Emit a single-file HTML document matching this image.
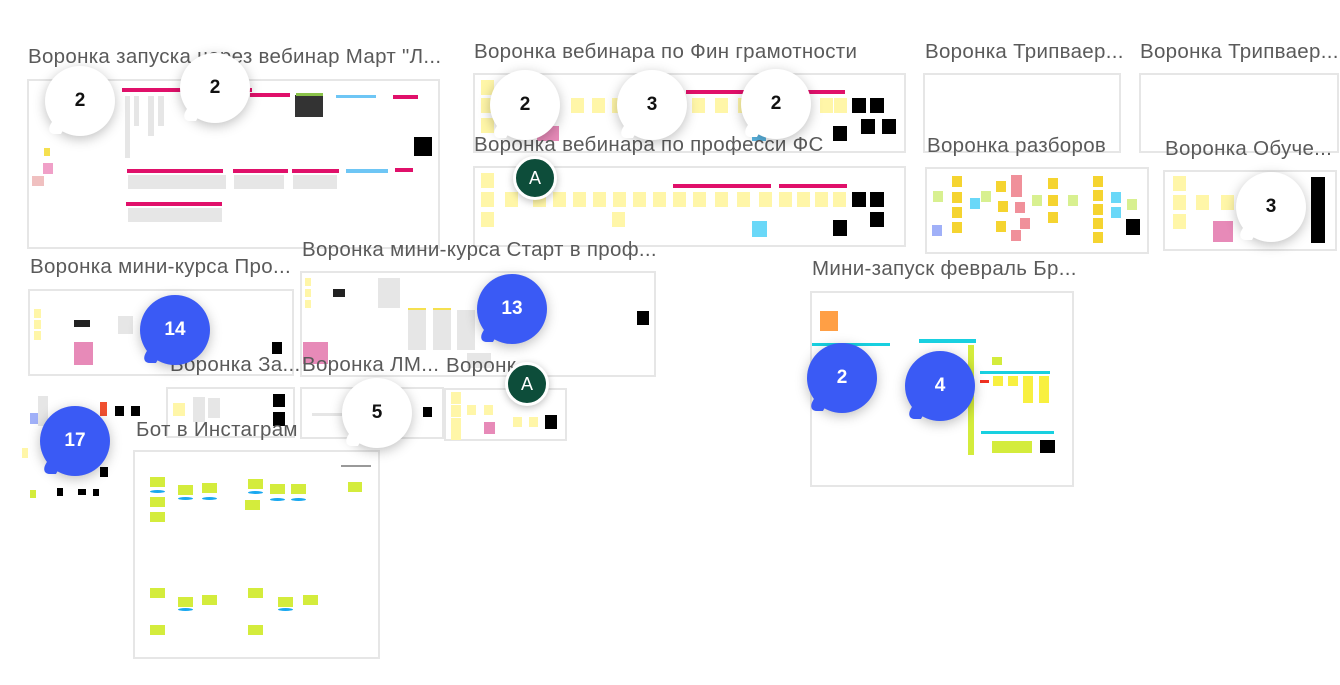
<!DOCTYPE html>
<html><head><meta charset="utf-8"><style>
body{margin:0;width:1340px;height:685px;background:#fff;position:relative;overflow:hidden;font-family:"Liberation Sans","DejaVu Sans",sans-serif}
.a{position:absolute}
.f{position:absolute;border:2px solid #e6e6e6;background:#fff;box-sizing:border-box}
.t{position:absolute;font-size:20.5px;color:#5a5a5a;white-space:nowrap;letter-spacing:0.3px}
.y{position:absolute;background:#fff6a8;width:13px;height:15px}
.Y{position:absolute;background:#f5d430;width:14px;height:15px}
.g{position:absolute;background:#e6e6e6}
.k{position:absolute;background:#000}
.p{position:absolute;background:#e0106a;height:4px}
.l{position:absolute;background:#d4ec3c}
.w{position:absolute;width:70px;height:70px;border-radius:50%;background:#fff;box-shadow:0 3px 12px rgba(0,0,0,.25);font-weight:bold;font-size:19px;color:#111;display:flex;align-items:center;justify-content:center}
.w:before{content:"";position:absolute;left:4px;bottom:2px;width:16px;height:14px;background:inherit;transform:skewX(-30deg);border-radius:0 0 0 10px}
.b{background:#3a5af5;color:#fff}
.av{position:absolute;width:38px;height:38px;border-radius:50%;background:#0d4d3a;border:3px solid #fff;box-shadow:0 2px 8px rgba(0,0,0,.25);color:#fff;font-size:18px;display:flex;align-items:center;justify-content:center}
</style></head><body>

<!-- frame 1 -->
<div class="t" style="left:28px;top:45px">Воронка запуска через вебинар Март "Л...</div>
<div class="f" style="left:27px;top:79px;width:413px;height:170px"></div>
<div class="p" style="left:122px;top:88px;width:130px"></div><div class="p" style="left:250px;top:93px;width:40px"></div>
<div class="a" style="left:295px;top:95px;width:28px;height:22px;background:#333"></div>
<div class="a" style="left:296px;top:93px;width:27px;height:3px;background:#8bc34a"></div>
<div class="a" style="left:336px;top:95px;width:40px;height:3px;background:#6ec6f5"></div>
<div class="p" style="left:393px;top:95px;width:25px"></div>
<div class="k" style="left:414px;top:137px;width:18px;height:19px"></div>
<div class="a" style="left:43px;top:163px;width:10px;height:11px;background:#f0a0c8"></div>
<div class="a" style="left:44px;top:148px;width:6px;height:8px;background:#f5e050"></div>
<div class="a" style="left:32px;top:176px;width:12px;height:10px;background:#f0c0c0"></div>
<div class="g" style="left:125px;top:96px;width:5px;height:62px"></div><div class="g" style="left:134px;top:96px;width:5px;height:30px"></div>
<div class="g" style="left:148px;top:96px;width:6px;height:40px"></div><div class="g" style="left:158px;top:96px;width:6px;height:30px"></div>
<div class="p" style="left:127px;top:169px;width:96px"></div><div class="p" style="left:233px;top:169px;width:55px"></div>
<div class="p" style="left:292px;top:169px;width:47px"></div><div class="a" style="left:346px;top:169px;width:42px;height:4px;background:#6ec6f5"></div><div class="p" style="left:395px;top:168px;width:18px"></div>
<div class="g" style="left:128px;top:175px;width:98px;height:14px"></div><div class="g" style="left:234px;top:175px;width:50px;height:14px"></div><div class="g" style="left:293px;top:175px;width:44px;height:14px"></div>
<div class="p" style="left:126px;top:202px;width:96px"></div><div class="g" style="left:128px;top:208px;width:94px;height:14px"></div>

<!-- frame 2 -->
<div class="t" style="left:474px;top:40px">Воронка вебинара по Фин грамотности</div>
<div class="f" style="left:473px;top:73px;width:433px;height:80px"></div>
<div class="p" style="left:686px;top:90px;width:100px"></div><div class="p" style="left:808px;top:90px;width:37px"></div>
<div class="y" style="left:481px;top:80px"></div><div class="y" style="left:481px;top:98px"></div><div class="y" style="left:481px;top:118px"></div>
<div class="y" style="left:571px;top:98px"></div><div class="y" style="left:592px;top:98px"></div><div class="y" style="left:612px;top:98px"></div>
<div class="y" style="left:692px;top:98px"></div><div class="y" style="left:715px;top:98px"></div><div class="y" style="left:738px;top:98px"></div><div class="y" style="left:820px;top:98px"></div><div class="y" style="left:834px;top:98px"></div>
<div class="a" style="left:537px;top:126px;width:22px;height:15px;background:#e78ab8"></div>
<div class="a" style="left:752px;top:133px;width:14px;height:8px;background:#5ab4e0"></div>
<div class="k" style="left:852px;top:98px;width:14px;height:15px"></div><div class="k" style="left:870px;top:98px;width:14px;height:15px"></div>
<div class="k" style="left:833px;top:126px;width:14px;height:15px"></div><div class="k" style="left:861px;top:119px;width:14px;height:15px"></div><div class="k" style="left:882px;top:119px;width:14px;height:15px"></div>

<!-- frame 3 -->
<div class="t" style="left:474px;top:133px">Воронка вебинара по професси ФС</div>
<div class="f" style="left:473px;top:166px;width:433px;height:81px"></div>
<div class="p" style="left:673px;top:184px;width:98px"></div><div class="p" style="left:779px;top:184px;width:68px"></div>
<div class="y" style="left:481px;top:173px"></div><div class="y" style="left:481px;top:192px"></div><div class="y" style="left:481px;top:212px"></div><div class="y" style="left:612px;top:212px"></div>
<div class="y" style="left:505px;top:192px"></div><div class="y" style="left:533px;top:192px"></div><div class="y" style="left:553px;top:192px"></div><div class="y" style="left:573px;top:192px"></div><div class="y" style="left:593px;top:192px"></div><div class="y" style="left:613px;top:192px"></div><div class="y" style="left:633px;top:192px"></div><div class="y" style="left:653px;top:192px"></div><div class="y" style="left:673px;top:192px"></div><div class="y" style="left:693px;top:192px"></div><div class="y" style="left:715px;top:192px"></div><div class="y" style="left:737px;top:192px"></div><div class="y" style="left:759px;top:192px"></div><div class="y" style="left:779px;top:192px"></div><div class="y" style="left:797px;top:192px"></div><div class="y" style="left:815px;top:192px"></div><div class="y" style="left:833px;top:192px"></div>
<div class="a" style="left:752px;top:221px;width:15px;height:16px;background:#6ad8f8"></div>
<div class="k" style="left:852px;top:192px;width:14px;height:15px"></div><div class="k" style="left:870px;top:192px;width:14px;height:15px"></div>
<div class="k" style="left:833px;top:220px;width:14px;height:16px"></div><div class="k" style="left:870px;top:212px;width:14px;height:15px"></div>

<!-- frame 4,5 -->
<div class="t" style="left:925px;top:40px">Воронка Трипваер...</div>
<div class="f" style="left:923px;top:73px;width:198px;height:80px"></div>
<div class="t" style="left:1140px;top:40px">Воронка Трипваер...</div>
<div class="f" style="left:1139px;top:73px;width:200px;height:80px"></div>

<!-- frame 6 -->
<div class="t" style="left:927px;top:134px">Воронка разборов</div>
<div class="f" style="left:925px;top:167px;width:224px;height:87px"></div>
<div class="a" style="left:933px;top:191px;width:10px;height:11px;background:#d8f090"></div><div class="a" style="left:932px;top:225px;width:10px;height:11px;background:#a0b0f8"></div>
<div class="Y" style="left:952px;top:176px;width:10px;height:11px"></div><div class="Y" style="left:952px;top:192px;width:10px;height:11px"></div><div class="Y" style="left:952px;top:207px;width:10px;height:11px"></div><div class="Y" style="left:952px;top:222px;width:10px;height:11px"></div>
<div class="a" style="left:970px;top:198px;width:10px;height:11px;background:#6ad8f8"></div><div class="a" style="left:981px;top:191px;width:10px;height:11px;background:#d8f090"></div>
<div class="Y" style="left:996px;top:181px;width:10px;height:11px"></div><div class="Y" style="left:998px;top:201px;width:10px;height:11px"></div><div class="Y" style="left:996px;top:221px;width:10px;height:11px"></div>
<div class="a" style="left:1011px;top:175px;width:11px;height:22px;background:#f0909a"></div><div class="a" style="left:1015px;top:202px;width:10px;height:11px;background:#f0909a"></div><div class="a" style="left:1020px;top:218px;width:10px;height:11px;background:#f0909a"></div><div class="a" style="left:1011px;top:230px;width:10px;height:11px;background:#f0909a"></div>
<div class="a" style="left:1032px;top:195px;width:10px;height:11px;background:#d8f090"></div><div class="Y" style="left:1048px;top:178px;width:10px;height:11px"></div><div class="Y" style="left:1048px;top:195px;width:10px;height:11px"></div><div class="Y" style="left:1048px;top:212px;width:10px;height:11px"></div>
<div class="a" style="left:1068px;top:195px;width:10px;height:11px;background:#d8f090"></div>
<div class="Y" style="left:1093px;top:176px;width:10px;height:11px"></div><div class="Y" style="left:1093px;top:190px;width:10px;height:11px"></div><div class="Y" style="left:1093px;top:204px;width:10px;height:11px"></div><div class="Y" style="left:1093px;top:218px;width:10px;height:11px"></div><div class="Y" style="left:1093px;top:232px;width:10px;height:11px"></div>
<div class="a" style="left:1111px;top:192px;width:10px;height:11px;background:#6ad8f8"></div><div class="a" style="left:1111px;top:207px;width:10px;height:11px;background:#6ad8f8"></div><div class="a" style="left:1127px;top:199px;width:10px;height:11px;background:#d8f090"></div>
<div class="k" style="left:1126px;top:219px;width:14px;height:16px"></div>

<!-- frame 7 -->
<div class="t" style="left:1165px;top:137px">Воронка Обуче...</div>
<div class="f" style="left:1163px;top:170px;width:174px;height:81px"></div>
<div class="y" style="left:1173px;top:176px"></div><div class="y" style="left:1173px;top:195px"></div><div class="y" style="left:1173px;top:214px"></div><div class="y" style="left:1196px;top:195px"></div><div class="y" style="left:1221px;top:195px"></div>
<div class="a" style="left:1213px;top:221px;width:20px;height:21px;background:#e78ab8"></div>
<div class="k" style="left:1311px;top:177px;width:14px;height:66px"></div>

<!-- frame 8 -->
<div class="t" style="left:30px;top:255px">Воронка мини-курса Про...</div>
<div class="f" style="left:28px;top:289px;width:266px;height:87px"></div>
<div class="y" style="left:34px;top:309px;width:7px;height:9px"></div><div class="y" style="left:34px;top:320px;width:7px;height:9px"></div><div class="y" style="left:34px;top:331px;width:7px;height:9px"></div>
<div class="a" style="left:74px;top:320px;width:16px;height:7px;background:#222"></div><div class="g" style="left:118px;top:316px;width:15px;height:18px"></div>
<div class="a" style="left:74px;top:342px;width:19px;height:23px;background:#e78ab8"></div>
<div class="k" style="left:272px;top:342px;width:10px;height:12px"></div>

<!-- frame 9 -->
<div class="t" style="left:302px;top:238px">Воронка мини-курса Старт в проф...</div>
<div class="f" style="left:300px;top:271px;width:356px;height:106px"></div>
<div class="y" style="left:305px;top:278px;width:6px;height:8px"></div><div class="y" style="left:305px;top:289px;width:6px;height:8px"></div><div class="y" style="left:305px;top:300px;width:6px;height:8px"></div>
<div class="a" style="left:333px;top:289px;width:12px;height:8px;background:#222"></div>
<div class="g" style="left:378px;top:278px;width:22px;height:30px"></div>
<div class="g" style="left:408px;top:310px;width:18px;height:40px"></div><div class="g" style="left:433px;top:310px;width:18px;height:40px"></div><div class="g" style="left:457px;top:310px;width:18px;height:40px"></div>
<div class="a" style="left:408px;top:308px;width:18px;height:2px;background:#f5e050"></div><div class="a" style="left:433px;top:308px;width:18px;height:2px;background:#f5e050"></div>
<div class="g" style="left:467px;top:353px;width:24px;height:15px"></div>
<div class="a" style="left:303px;top:342px;width:25px;height:22px;background:#e78ab8"></div>
<div class="k" style="left:637px;top:311px;width:12px;height:14px"></div>

<!-- frame 10 -->
<div class="t" style="left:812px;top:257px">Мини-запуск февраль Бр...</div>
<div class="f" style="left:810px;top:291px;width:264px;height:196px"></div>
<div class="a" style="left:820px;top:311px;width:18px;height:20px;background:#ff9f45"></div>
<div class="a" style="left:812px;top:343px;width:78px;height:3px;background:#18d0e0"></div>
<div class="a" style="left:919px;top:339px;width:57px;height:4px;background:#18d0e0"></div>
<div class="a" style="left:980px;top:371px;width:70px;height:3px;background:#18d0e0"></div>
<div class="a" style="left:981px;top:431px;width:73px;height:3px;background:#18d0e0"></div>
<div class="a" style="left:980px;top:380px;width:9px;height:3px;background:#f03020"></div>
<div class="a" style="left:993px;top:376px;width:10px;height:10px;background:#f8f040"></div><div class="a" style="left:1008px;top:376px;width:10px;height:10px;background:#f8f040"></div>
<div class="a" style="left:1023px;top:376px;width:10px;height:27px;background:#f8f040"></div><div class="a" style="left:1039px;top:376px;width:10px;height:27px;background:#f8f040"></div>
<div class="l" style="left:992px;top:357px;width:10px;height:8px"></div>
<div class="l" style="left:968px;top:345px;width:6px;height:110px"></div>
<div class="l" style="left:992px;top:441px;width:40px;height:12px"></div>
<div class="k" style="left:1040px;top:440px;width:15px;height:13px"></div>

<!-- frames 11-13 -->
<div class="t" style="left:170px;top:353px">Воронка За...</div>
<div class="f" style="left:166px;top:387px;width:129px;height:51px"></div>
<div class="y" style="left:173px;top:403px;width:12px;height:13px"></div>
<div class="g" style="left:193px;top:397px;width:12px;height:25px"></div><div class="g" style="left:208px;top:398px;width:12px;height:20px"></div>
<div class="k" style="left:273px;top:394px;width:12px;height:13px"></div><div class="k" style="left:273px;top:412px;width:12px;height:14px"></div>
<div class="t" style="left:302px;top:353px">Воронка ЛМ...</div>
<div class="f" style="left:300px;top:387px;width:144px;height:52px"></div>
<div class="g" style="left:312px;top:413px;width:30px;height:3px"></div>
<div class="k" style="left:423px;top:407px;width:9px;height:10px"></div>
<div class="t" style="left:446px;top:354px">Воронк...</div>
<div class="f" style="left:444px;top:388px;width:123px;height:53px"></div>
<div class="y" style="left:451px;top:392px;width:10px;height:12px"></div><div class="y" style="left:451px;top:405px;width:10px;height:12px"></div><div class="y" style="left:451px;top:418px;width:10px;height:22px"></div>
<div class="y" style="left:467px;top:405px;width:9px;height:10px"></div><div class="y" style="left:484px;top:405px;width:9px;height:10px"></div><div class="y" style="left:513px;top:417px;width:9px;height:10px"></div><div class="y" style="left:529px;top:417px;width:9px;height:10px"></div>
<div class="a" style="left:484px;top:422px;width:11px;height:12px;background:#e78ab8"></div>
<div class="k" style="left:545px;top:415px;width:12px;height:14px"></div>

<!-- left scattered -->
<div class="a" style="left:30px;top:413px;width:8px;height:11px;background:#a0b0f8"></div>
<div class="g" style="left:38px;top:396px;width:10px;height:30px"></div>
<div class="a" style="left:100px;top:402px;width:7px;height:14px;background:#f05030"></div>
<div class="k" style="left:115px;top:406px;width:9px;height:10px"></div><div class="k" style="left:131px;top:406px;width:9px;height:10px"></div>
<div class="k" style="left:100px;top:467px;width:8px;height:10px"></div>
<div class="l" style="left:30px;top:490px;width:6px;height:8px"></div><div class="k" style="left:57px;top:488px;width:6px;height:8px"></div><div class="k" style="left:78px;top:489px;width:8px;height:6px"></div><div class="k" style="left:93px;top:489px;width:6px;height:7px"></div>
<div class="y" style="left:22px;top:448px;width:6px;height:10px"></div>

<!-- frame 14 -->
<div class="t" style="left:136px;top:418px">Бот в Инстаграм</div>
<div class="f" style="left:133px;top:450px;width:247px;height:209px"></div>
<div class="g" style="left:341px;top:465px;width:30px;height:2px;background:#999"></div>
<div class="l" style="left:150px;top:477px;width:15px;height:10px"></div><div class="l" style="left:178px;top:485px;width:15px;height:10px"></div><div class="l" style="left:202px;top:483px;width:15px;height:10px"></div>
<div class="l" style="left:150px;top:497px;width:15px;height:10px"></div><div class="l" style="left:150px;top:512px;width:15px;height:10px"></div>
<div class="l" style="left:248px;top:479px;width:15px;height:10px"></div><div class="l" style="left:270px;top:484px;width:15px;height:10px"></div><div class="l" style="left:291px;top:484px;width:15px;height:10px"></div><div class="l" style="left:245px;top:500px;width:15px;height:10px"></div><div class="l" style="left:348px;top:482px;width:14px;height:10px"></div>
<div class="l" style="left:150px;top:588px;width:15px;height:10px"></div><div class="l" style="left:178px;top:597px;width:15px;height:10px"></div><div class="l" style="left:202px;top:595px;width:15px;height:10px"></div><div class="l" style="left:150px;top:625px;width:15px;height:10px"></div>
<div class="l" style="left:248px;top:588px;width:15px;height:10px"></div><div class="l" style="left:278px;top:597px;width:15px;height:10px"></div><div class="l" style="left:303px;top:595px;width:15px;height:10px"></div><div class="l" style="left:248px;top:625px;width:15px;height:10px"></div>
<div class="a" style="left:150px;top:490px;width:15px;height:3px;background:#18a8f0;border-radius:50%"></div><div class="a" style="left:178px;top:497px;width:15px;height:3px;background:#18a8f0;border-radius:50%"></div><div class="a" style="left:202px;top:497px;width:15px;height:3px;background:#18a8f0;border-radius:50%"></div>
<div class="a" style="left:248px;top:491px;width:15px;height:3px;background:#18a8f0;border-radius:50%"></div><div class="a" style="left:270px;top:498px;width:15px;height:3px;background:#18a8f0;border-radius:50%"></div><div class="a" style="left:291px;top:498px;width:15px;height:3px;background:#18a8f0;border-radius:50%"></div>
<div class="a" style="left:178px;top:608px;width:15px;height:3px;background:#18a8f0;border-radius:50%"></div><div class="a" style="left:278px;top:608px;width:15px;height:3px;background:#18a8f0;border-radius:50%"></div>

<!-- bubbles -->
<div class="w" style="left:45px;top:66px">2</div>
<div class="w" style="left:180px;top:53px">2</div>
<div class="w" style="left:490px;top:70px">2</div>
<div class="w" style="left:617px;top:70px">3</div>
<div class="w" style="left:741px;top:69px">2</div>
<div class="w" style="left:1236px;top:172px">3</div>
<div class="w" style="left:342px;top:378px">5</div>
<div class="w b" style="left:140px;top:295px">14</div>
<div class="w b" style="left:477px;top:274px">13</div>
<div class="w b" style="left:40px;top:406px">17</div>
<div class="w b" style="left:807px;top:343px">2</div>
<div class="w b" style="left:905px;top:351px">4</div>
<div class="av" style="left:513px;top:156px">A</div>
<div class="av" style="left:505px;top:362px">A</div>
</body></html>
